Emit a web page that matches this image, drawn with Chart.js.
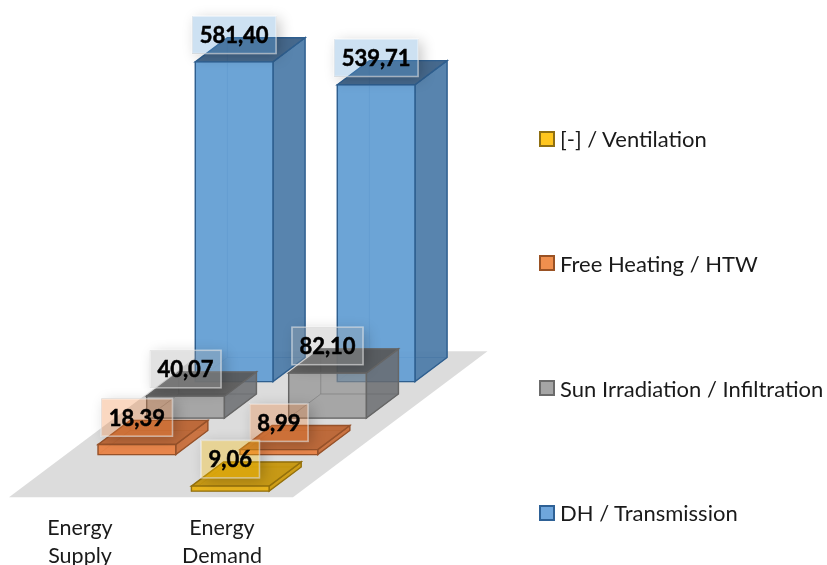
<!DOCTYPE html>
<html>
<head>
<meta charset="utf-8">
<title>Energy balance</title>
<script src="https://cdn.jsdelivr.net/npm/chart.js@4/dist/chart.umd.min.js"></script>
<style>
    html, body { margin: 0; padding: 0; background: #fff; overflow: hidden; }
    #wrap { position: relative; width: 827px; height: 565px; }
    #legend {
        position: absolute; left: 539px; top: 124.8px;
        display: flex; flex-direction: column; gap: 96.7px;
        font: 22px Lato, sans-serif; color: #1a1a1a; white-space: nowrap;
    }
    #legend div { display: flex; align-items: center; height: 28px; }
    #legend i { width: 12px; height: 12px; border: 2px solid; margin-right: 5px; display: block; }
</style>
</head>
<body>
<div id="wrap">
    <canvas id="energyChart" width="827" height="565"></canvas>
    <div id="legend"></div>
</div>
<script>
const categories = [['Energy', 'Supply'], ['Energy', 'Demand']];
const seriesNames = ['[-] / Ventilation', 'Free Heating / HTW', 'Sun Irradiation / Infiltration', 'DH / Transmission'];
const ventilationValues = [null, 9.06];
const freeHeatingValues = [18.39, 8.99];
const sunValues = [40.07, 82.10];
const dhValues = [581.40, 539.71];

// floor depth in pixels, and how much of each row slot a box fills
const DEPTH_X = 194.5;
const DEPTH_Y = 146;
const ROWS = 4;
const BOX_DEPTH = 0.66;

function shape(ctx, points, fill, stroke, lineWidth) {
    ctx.beginPath();
    points.forEach(([x, y], i) => i ? ctx.lineTo(x, y) : ctx.moveTo(x, y));
    ctx.closePath();
    if (fill) { ctx.fillStyle = fill; ctx.fill(); }
    if (stroke) { ctx.strokeStyle = stroke; ctx.lineWidth = lineWidth; ctx.stroke(); }
}

function drawBox(ctx, bar, row, c) {
    const d0 = (row + (1 - BOX_DEPTH) / 2) / ROWS;
    const d1 = (row + (1 + BOX_DEPTH) / 2) / ROWS;
    const half = bar.width / 2;
    const p = (x, y, d) => [x + DEPTH_X * d, y - DEPTH_Y * d];
    const l = bar.x - half, r = bar.x + half, t = bar.y, b = bar.base;

    // rear faces show faintly through the front ones
    shape(ctx, [p(l, t, d1), p(r, t, d1), p(r, b, d1), p(l, b, d1)], c.back, c.inner, 1);
    shape(ctx, [p(l, t, d0), p(l, t, d1), p(l, b, d1), p(l, b, d0)], c.back, c.inner, 1);
    shape(ctx, [p(l, b, d0), p(r, b, d0), p(r, b, d1), p(l, b, d1)], c.back, c.inner, 1);

    shape(ctx, [p(r, t, d0), p(r, t, d1), p(r, b, d1), p(r, b, d0)], c.side, c.edge, 1.4);
    shape(ctx, [p(l, t, d0), p(l, t, d1), p(r, t, d1), p(r, t, d0)], c.top, c.edge, 1.4);
    shape(ctx, [p(l, t, d0), p(r, t, d0), p(r, b, d0), p(l, b, d0)], c.front, c.edge, 1.4);
}

function drawValueLabel(ctx, bar, row, value, tint) {
    const text = value.toFixed(2).replace('.', ',');
    const d0 = (row + (1 - BOX_DEPTH) / 2) / ROWS;
    const cx = bar.x + DEPTH_X * d0;
    const cy = bar.y - DEPTH_Y * d0 - 27;
    ctx.font = 'bold 22px Lato, sans-serif';
    const w = ctx.measureText(text).width + 15;
    const h = 37.5;
    const x = cx - w / 2, y = cy - h / 2;

    // soft shadow only outside the box, the box itself stays see-through
    ctx.save();
    ctx.beginPath();
    ctx.rect(0, 0, ctx.canvas.width, ctx.canvas.height);
    ctx.rect(x, y, w, h);
    ctx.clip('evenodd');
    ctx.shadowColor = 'rgba(0,0,0,0.22)';
    ctx.shadowBlur = 14;
    ctx.shadowOffsetX = 4;
    ctx.shadowOffsetY = 3;
    ctx.fillStyle = '#000';
    ctx.fillRect(x, y, w, h);
    ctx.restore();

    ctx.fillStyle = tint;
    ctx.fillRect(x, y, w, h);
    ctx.strokeStyle = 'rgba(255,255,255,0.55)';
    ctx.lineWidth = 1.5;
    ctx.strokeRect(x, y, w, h);

    // thin outline thickens the bold digits a little
    ctx.fillStyle = '#000';
    ctx.strokeStyle = '#000';
    ctx.lineWidth = 0.5;
    ctx.textAlign = 'center';
    ctx.textBaseline = 'middle';
    ctx.fillText(text, cx, cy + 1);
    ctx.strokeText(text, cx, cy + 1);
}

const boxes3d = {
    id: 'boxes3d',
    beforeDatasetsDraw(chart) {
        const { ctx, chartArea: a } = chart;
        shape(ctx, [[a.left, a.bottom], [a.right, a.bottom],
            [a.right + DEPTH_X, a.bottom - DEPTH_Y], [a.left + DEPTH_X, a.bottom - DEPTH_Y]], '#dcdcdc');
    },
    afterDatasetsDraw(chart) {
        const { ctx, data } = chart;
        ctx.save();
        for (let row = data.datasets.length - 1; row >= 0; row--) {
            chart.getDatasetMeta(row).data.forEach((bar, i) => {
                if (data.datasets[row].data[i] !== null) drawBox(ctx, bar, row, data.datasets[row].faces);
            });
        }
        for (let row = data.datasets.length - 1; row >= 0; row--) {
            chart.getDatasetMeta(row).data.forEach((bar, i) => {
                const value = data.datasets[row].data[i];
                if (value !== null) drawValueLabel(ctx, bar, row, value, data.datasets[row].faces.tint);
            });
        }
        ctx.restore();
    }
};

const faces = [
    { front: 'rgba(232,178,20,0.95)', side: 'rgba(205,155,15,0.95)', top: 'rgba(196,148,8,0.92)', back: 'rgba(255,192,0,0.15)', edge: '#94700c', inner: 'rgba(148,112,12,0.35)', tint: 'rgba(255,192,0,0.32)', swatch: '#ffc61e', border: '#8f6f12' },
    { front: 'rgba(232,128,66,0.92)', side: 'rgba(200,108,56,0.92)', top: 'rgba(186,98,48,0.92)', back: 'rgba(237,125,49,0.15)', edge: '#97522a', inner: 'rgba(151,82,42,0.35)', tint: 'rgba(237,125,49,0.30)', swatch: '#f08f4e', border: '#9a5224' },
    { front: 'rgba(140,140,140,0.62)', side: 'rgba(104,106,110,0.82)', top: 'rgba(88,88,88,0.92)', back: 'rgba(120,120,120,0.12)', edge: '#666', inner: 'rgba(90,90,90,0.35)', tint: 'rgba(165,165,165,0.32)', swatch: '#a5a5a5', border: '#6b6b6b' },
    { front: 'rgba(100,158,212,0.92)', side: 'rgba(72,120,165,0.88)', top: 'rgba(62,98,136,0.95)', back: 'rgba(91,155,213,0.25)', edge: '#2f5f8f', inner: 'rgba(47,95,143,0.35)', tint: 'rgba(91,155,213,0.30)', swatch: '#6fa6dc', border: '#2e6196' }
];

const seriesValues = [ventilationValues, freeHeatingValues, sunValues, dhValues];

const chart = new Chart(document.getElementById('energyChart'), {
    type: 'bar',
    data: {
        labels: categories,
        datasets: seriesNames.map((name, i) => ({
            label: name,
            data: seriesValues[i],
            faces: faces[i],
            backgroundColor: 'transparent',
            grouped: false,
            categoryPercentage: 1,
            barPercentage: 0.547
        }))
    },
    options: {
        responsive: false,
        animation: false,
        layout: { padding: { left: 9, right: 534, top: 2.3, bottom: 0 } },
        plugins: { legend: { display: false }, tooltip: { enabled: false } },
        scales: {
            x: {
                grid: { display: false },
                border: { display: false },
                ticks: { color: '#1a1a1a', font: { family: 'Lato, sans-serif', size: 21.5, lineHeight: 1.33 }, padding: 8, maxRotation: 0, autoSkip: false },
                afterFit: (axis) => { axis.height = 67.7; }
            },
            y: { display: false, min: 0, max: 900 }
        }
    },
    plugins: [boxes3d]
});

// legend lists the series front row first
const legend = document.getElementById('legend');
chart.data.datasets.forEach(ds => {
    const item = document.createElement('div');
    item.innerHTML = `<i style="background:${ds.faces.swatch};border-color:${ds.faces.border}"></i>${ds.label}`;
    legend.appendChild(item);
});
</script>
</body>
</html>
